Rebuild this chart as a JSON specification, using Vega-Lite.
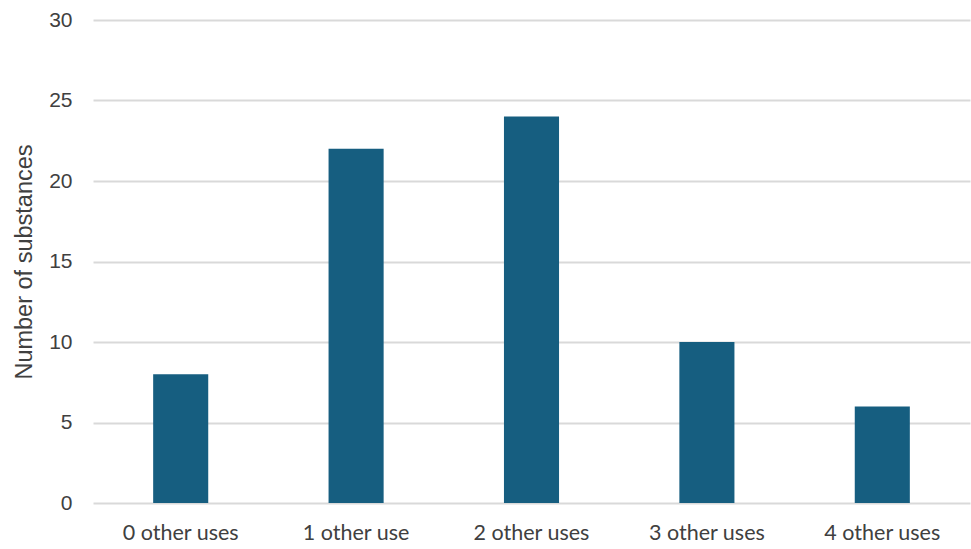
{
  "$schema": "https://vega.github.io/schema/vega-lite/v6.json",
  "width": 877,
  "height": 483,
  "autosize": {"type": "none"},
  "padding": {"left": 93, "top": 20, "right": 1, "bottom": 46},
  "background": "white",
  "config": {"view": {"stroke": null}, "font": "Liberation Sans"},
  "data": {"values": [
    {"category": "0 other uses", "count": 8},
    {"category": "1 other use", "count": 22},
    {"category": "2 other uses", "count": 24},
    {"category": "3 other uses", "count": 10},
    {"category": "4 other uses", "count": 6}
  ]},
  "mark": {"type": "bar", "color": "#165e80"},
  "encoding": {
    "x": {
      "field": "category", "type": "nominal", "sort": null,
      "scale": {"paddingInner": 0.686, "paddingOuter": 0.343},
      "axis": {"title": null, "labelAngle": 0, "domain": false, "ticks": false, "labelFontSize": 21.5, "labelColor": "#404040", "labelPadding": 19, "labelFont": "Lato"}
    },
    "y": {
      "field": "count", "type": "quantitative",
      "scale": {"domain": [0, 30]},
      "axis": {"title": "Number of substances", "titleFontSize": 23.5, "titleFontWeight": "normal", "titleColor": "#404040", "titlePadding": 12, "values": [0,5,10,15,20,25,30], "domain": false, "ticks": false, "labelFontSize": 21, "labelColor": "#404040", "labelPadding": 21, "gridColor": "#d9d9d9", "gridWidth": 2}
    }
  }
}
